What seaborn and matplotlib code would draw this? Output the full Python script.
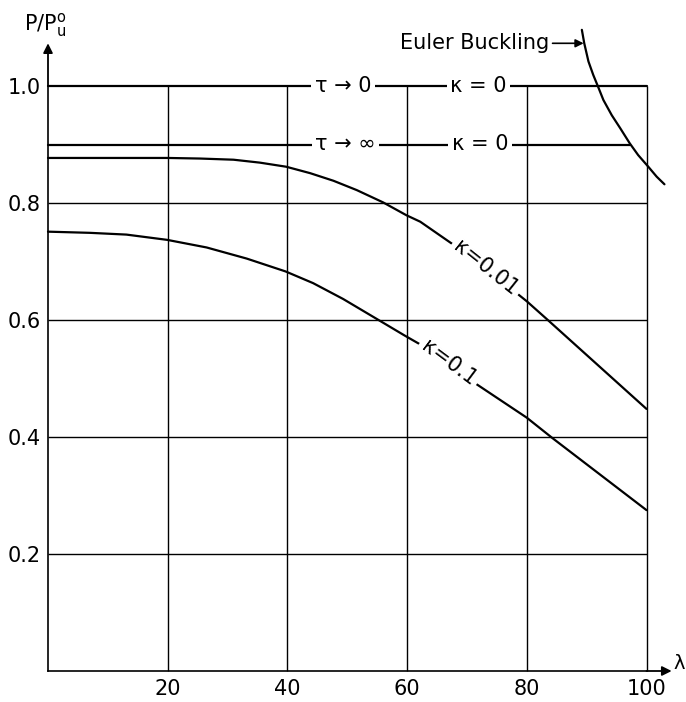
import numpy as np
import pandas as pd
import matplotlib
matplotlib.use("Agg")
import matplotlib.pyplot as plt
import seaborn as sns

# values
lam_k001 = [0, 10, 17, 20, 25.4, 31, 35.4, 39.8, 43.8, 47.7, 51.6, 56, 59.9, 62.2,
            68.4, 77.8, 80, 83.4, 100]
p_k001 = [0.877, 0.877, 0.877, 0.877, 0.876, 0.874, 0.869, 0.862, 0.851, 0.838, 0.822,
          0.801, 0.779, 0.768, 0.724, 0.650, 0.632, 0.601, 0.448]

lam_k01 = [0, 7, 13.1, 19.9, 26.5, 33.2, 39.7, 44.3, 49.3, 54.9, 59.5, 62.4, 71.2,
           80, 84.3, 100]
p_k01 = [0.751, 0.749, 0.746, 0.737, 0.724, 0.705, 0.683, 0.663, 0.636, 0.602, 0.574,
         0.557, 0.493, 0.433, 0.398, 0.275]

lam_euler = [89.2, 89.6, 90.3, 91.1, 91.9, 92.8, 94.2, 95.6, 97.2, 98.6, 100.3, 101.7, 103.0]
p_euler = [1.096, 1.073, 1.042, 1.019, 0.999, 0.976, 0.950, 0.928, 0.902, 0.882, 0.862,
           0.845, 0.832]

lam_tau0 = [0, 100]
p_tau0 = [1.0, 1.0]
lam_tauinf = [0, 97.2]
p_tauinf = [0.9, 0.9]

x_ticks = [20, 40, 60, 80, 100]
y_ticks = [0.2, 0.4, 0.6, 0.8, 1.0]
y_minor = [0.1, 0.3, 0.5, 0.7, 0.9]

sns.set_style("white")
plt.rcParams['font.family'] = ['DejaVu Sans']
plt.rcParams['text.color'] = 'black'
plt.rcParams['axes.labelcolor'] = 'black'

fig = plt.figure(figsize=(6.86, 7.02), dpi=100)
ax = fig.add_axes([48 / 686, 31 / 702, 598.5 / 686, 585 / 702])
ax.set_xlim(0, 100)
ax.set_ylim(0, 1.0)

# grid
ax.hlines(y_ticks[:-1], 0, 100, color="black", lw=1.0, zorder=1, clip_on=False)
ax.vlines(x_ticks, 0, 1.0, color="black", lw=1.0, zorder=1, clip_on=False)

curve_kw = dict(color="black", lw=1.6, estimator=None, sort=False, ax=ax, zorder=2)
sns.lineplot(x=lam_tau0, y=p_tau0, **curve_kw)
sns.lineplot(x=lam_tauinf, y=p_tauinf, **curve_kw)
sns.lineplot(x=lam_k001, y=p_k001, **curve_kw)
sns.lineplot(x=lam_k01, y=p_k01, **curve_kw)
sns.lineplot(x=lam_euler, y=p_euler, **curve_kw)
for ln in ax.lines:
    ln.set_clip_on(False)
    ln.set_solid_joinstyle("round")

# spines and ticks
for s in ["top", "right"]:
    ax.spines[s].set_visible(False)
for s in ["left", "bottom"]:
    ax.spines[s].set_linewidth(1.2)
    ax.spines[s].set_color("black")
ax.set_xticks(x_ticks)
ax.set_xticklabels([str(v) for v in x_ticks])
ax.set_yticks(y_ticks)
ax.set_yticklabels([f"{v:.1f}" for v in y_ticks])
ax.set_yticks(y_minor, minor=True)
ax.tick_params(which="major", length=0, labelsize=15, colors="black")
ax.tick_params(axis="x", which="major", pad=6)
ax.tick_params(axis="y", which="major", pad=5)
ax.tick_params(axis="y", which="minor", direction="in", length=6, width=1.2)

# axis arrows
arrow = dict(arrowstyle="-|>", color="black", lw=1.3, mutation_scale=14, shrinkA=0, shrinkB=0)
ax.annotate("", xy=(0, 1.073), xytext=(0, 1.0), arrowprops=arrow, annotation_clip=False)
ax.annotate("", xy=(104.2, 0), xytext=(100, 0), arrowprops=arrow, annotation_clip=False)
ax.text(104.5, 0.012, "λ", fontsize=14, ha="left", va="center", clip_on=False)
ax.text(-0.5, 1.105, r"P/P$_\mathrm{u}^\mathrm{o}$", fontsize=15, ha="center", va="center")

# curve labels
box = dict(facecolor="white", edgecolor="none", pad=2.5)
ax.text(49.3, 1.0, "τ → 0", fontsize=15, ha="center", va="center", bbox=box, zorder=3)
ax.text(71.9, 1.0, "κ = 0", fontsize=15, ha="center", va="center", bbox=box, zorder=3)
ax.text(49.7, 0.9, "τ → ∞", fontsize=15, ha="center", va="center", bbox=box, zorder=3)
ax.text(72.2, 0.9, "κ = 0", fontsize=15, ha="center", va="center", bbox=box, zorder=3)
ax.text(73.1, 0.688, "κ=0.01", fontsize=15, ha="center", va="center", rotation=-38.5,
        rotation_mode="anchor", bbox=box, zorder=3)
ax.text(66.9, 0.526, "κ=0.1", fontsize=15, ha="center", va="center", rotation=-36.7,
        rotation_mode="anchor", bbox=box, zorder=3)

ax.text(71.3, 1.073, "Euler Buckling", fontsize=15, ha="center", va="center")
ax.annotate("", xy=(89.5, 1.073), xytext=(84.3, 1.073),
            arrowprops=dict(arrowstyle="-|>", color="black", lw=1.2, mutation_scale=12,
                            shrinkA=0, shrinkB=0), annotation_clip=False)

fig.savefig("out.png", dpi=100)
